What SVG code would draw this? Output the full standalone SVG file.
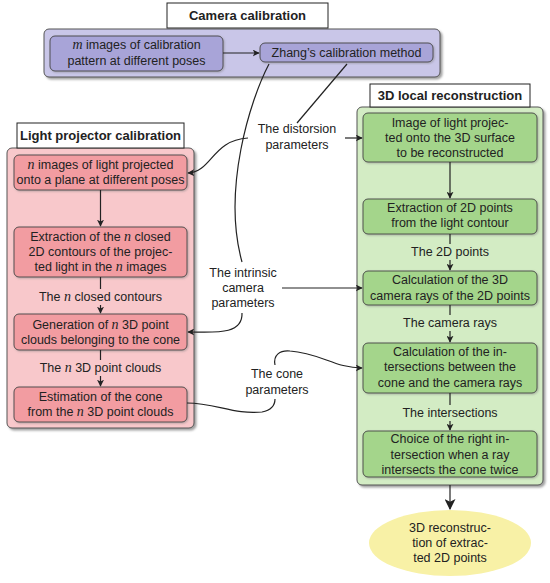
<svg xmlns="http://www.w3.org/2000/svg" width="550" height="583" viewBox="0 0 550 583">
<style>
text{font-family:"Liberation Sans","DejaVu Sans",sans-serif;font-size:12.5px;fill:#222;text-anchor:middle}
.t{font-weight:bold;font-size:13px}
.m{font-family:"Liberation Serif","DejaVu Serif",serif;font-style:italic;font-size:14px}
.cont{stroke:#555;stroke-width:1;filter:url(#sh)}
.node{stroke:#444;stroke-width:0.9;filter:url(#sh2)}
.title{fill:#fff;stroke:#222;stroke-width:1}
.c{fill:none;stroke:#222;stroke-width:1.2}
.pc{fill:#c9c6e8}.pn{fill:#a8a4d8}
.rc{fill:#f8c8cb}.rn{fill:#f29ca1}
.gc{fill:#d3ecc4}.gn{fill:#a4d58b}
</style>
<defs>
<marker id="a" viewBox="0 0 10 10" refX="9" refY="5" markerWidth="7" markerHeight="7" markerUnits="userSpaceOnUse" orient="auto"><path d="M0,0 L10,5 L0,10 L2.5,5 Z" fill="#222"/></marker>
<marker id="ab" viewBox="0 0 10 10" refX="9" refY="5" markerWidth="11" markerHeight="11" markerUnits="userSpaceOnUse" orient="auto"><path d="M0,0 L10,5 L0,10 L2.5,5 Z" fill="#222"/></marker>
<filter id="sh" x="-5%" y="-5%" width="115%" height="115%"><feDropShadow dx="2" dy="2" stdDeviation="1.2" flood-color="#777" flood-opacity="0.7"/></filter>
<filter id="sh2" x="-5%" y="-5%" width="115%" height="120%"><feDropShadow dx="1" dy="1" stdDeviation="0.8" flood-color="#777" flood-opacity="0.5"/></filter>
</defs>

<g id="camera-calibration">
<rect class="cont pc" x="44" y="29" width="396" height="48" rx="5"/>
<rect class="title" x="167" y="3" width="161" height="25"/>
<text class="t" x="247.5" y="20">Camera calibration</text>
</g>
<g id="m-images">
<rect class="node pn" x="50" y="36" width="173" height="35" rx="5"/>
<text x="136.5" y="49"><tspan class="m">m</tspan> images of calibration</text>
<text x="136.5" y="65">pattern at different poses</text>
</g>
<g id="zhang">
<rect class="node pn" x="260" y="43" width="173" height="19" rx="5"/>
<text x="346.5" y="57">Zhang’s calibration method</text>
</g>

<g id="light-projector-calibration">
<rect class="cont rc" x="7" y="148" width="187" height="280" rx="5"/>
<rect class="title" x="17" y="123" width="167" height="25"/>
<text class="t" x="100.5" y="140">Light projector calibration</text>
</g>
<g id="n-images">
<rect class="node rn" x="14" y="155" width="173" height="35" rx="5"/>
<text x="100.5" y="169"><tspan class="m">n</tspan> images of light projected</text>
<text x="100.5" y="184">onto a plane at different poses</text>
</g>
<g id="extraction-contours">
<rect class="node rn" x="14" y="227" width="173" height="50" rx="5"/>
<text x="100.5" y="241">Extraction of the <tspan class="m">n</tspan> closed</text>
<text x="100.5" y="256">2D contours of the projec-</text>
<text x="100.5" y="271">ted light in the <tspan class="m">n</tspan> images</text>
</g>
<g id="generation">
<rect class="node rn" x="14" y="314" width="173" height="36" rx="5"/>
<text x="100.5" y="329">Generation of <tspan class="m">n</tspan> 3D point</text>
<text x="100.5" y="344">clouds belonging to the cone</text>
</g>
<g id="estimation">
<rect class="node rn" x="14" y="387" width="173" height="35" rx="5"/>
<text x="100.5" y="401">Estimation of the cone</text>
<text x="100.5" y="416">from the <tspan class="m">n</tspan> 3D point clouds</text>
</g>

<g id="local-reconstruction">
<rect class="cont gc" x="357" y="107" width="186" height="378" rx="5"/>
<rect class="title" x="370" y="84" width="160" height="23"/>
<text class="t" x="450" y="100">3D local reconstruction</text>
</g>
<g id="image-light">
<rect class="node gn" x="363" y="113" width="174" height="49" rx="5"/>
<text x="450" y="127">Image of light projec-</text>
<text x="450" y="142">ted onto the 3D surface</text>
<text x="450" y="157">to be reconstructed</text>
</g>
<g id="extraction-2d">
<rect class="node gn" x="363" y="199" width="174" height="35" rx="5"/>
<text x="450" y="212">Extraction of 2D points</text>
<text x="450" y="227">from the light contour</text>
</g>
<g id="calc-rays">
<rect class="node gn" x="363" y="271" width="174" height="34" rx="5"/>
<text x="450" y="284">Calculation of the 3D</text>
<text x="450" y="300">camera rays of the 2D points</text>
</g>
<g id="calc-intersections">
<rect class="node gn" x="363" y="343" width="174" height="50" rx="5"/>
<text x="450" y="356">Calculation of the in-</text>
<text x="450" y="371">tersections between the</text>
<text x="450" y="387">cone and the camera rays</text>
</g>
<g id="choice">
<rect class="node gn" x="363" y="431" width="174" height="46" rx="5"/>
<text x="450" y="443">Choice of the right in-</text>
<text x="450" y="459">tersection when a ray</text>
<text x="450" y="474">intersects the cone twice</text>
</g>
<g id="result">
<ellipse cx="450" cy="543" rx="81" ry="33" fill="#f8f1a6"/>
<text x="450" y="532">3D reconstruc-</text>
<text x="450" y="547">tion of extrac-</text>
<text x="450" y="562">ted 2D points</text>
</g>

<g id="labels">
<text x="297" y="133">The distorsion</text>
<text x="297" y="149">parameters</text>
<text x="243" y="277">The intrinsic</text>
<text x="243" y="292">camera</text>
<text x="243" y="307">parameters</text>
<text x="277" y="378">The cone</text>
<text x="277" y="394">parameters</text>
<text x="100.5" y="301">The <tspan class="m">n</tspan> closed contours</text>
<text x="100.5" y="372">The <tspan class="m">n</tspan> 3D point clouds</text>
<text x="450" y="256">The 2D points</text>
<text x="450" y="327">The camera rays</text>
<text x="450" y="417">The intersections</text>
</g>

<g id="connectors">
<path class="c" d="M223,53 L259,53" marker-end="url(#a)"/>
<path class="c" d="M269,64 C250,100 222,190 242,262"/>
<path class="c" d="M347,64 L297,123"/>
<path class="c" d="M248,138 C212,140 212,172 188,173" marker-end="url(#a)"/>
<path class="c" d="M345,138 L362,138" marker-end="url(#a)"/>
<path class="c" d="M282,288 L362,288" marker-end="url(#a)"/>
<path class="c" d="M242,313 C243,336 212,332 188,332" marker-end="url(#a)"/>
<path class="c" d="M187,403 C215,403 235,415 262,412 C272,410 275,405 275,399"/>
<path class="c" d="M275,365 C273,355 280,350 290,351 C320,353 335,368 362,368" marker-end="url(#a)"/>
<path class="c" d="M100.5,190 L100.5,226" marker-end="url(#a)"/>
<path class="c" d="M100.5,277 L100.5,289"/>
<path class="c" d="M100.5,305 L100.5,313" marker-end="url(#a)"/>
<path class="c" d="M100.5,350 L100.5,360"/>
<path class="c" d="M100.5,376 L100.5,386" marker-end="url(#a)"/>
<path class="c" d="M450,162 L450,198" marker-end="url(#a)"/>
<path class="c" d="M450,234 L450,244"/>
<path class="c" d="M450,260 L450,270" marker-end="url(#a)"/>
<path class="c" d="M450,305 L450,315"/>
<path class="c" d="M450,331 L450,342" marker-end="url(#a)"/>
<path class="c" d="M450,393 L450,405"/>
<path class="c" d="M450,421 L450,430" marker-end="url(#a)"/>
<path class="c" d="M450,485 L450,509" stroke-width="2.4" marker-end="url(#ab)"/>
</g>
</svg>
